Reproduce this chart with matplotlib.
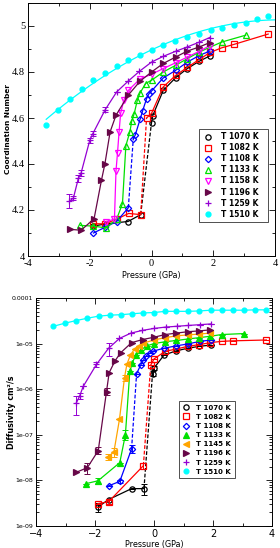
import numpy as np
import matplotlib
matplotlib.use("Agg")
import matplotlib.pyplot as plt
from matplotlib.ticker import MultipleLocator, LogLocator, NullFormatter, FixedLocator, FixedFormatter

# ---------------- data: coordination number (top) ----------------
labels_top = ['T 1070 K', 'T 1082 K', 'T 1108 K', 'T 1133 K', 'T 1158 K', 'T 1196 K', 'T 1259 K', 'T 1510 K']

p_1070_t = [-1.88, -1.47, -0.76, -0.35, 0.0, 0.04, 0.38, 0.78, 1.16, 1.55, 1.89]
cn_1070 = [4.13, 4.14, 4.15, 4.18, 4.58, 4.61, 4.72, 4.775, 4.815, 4.847, 4.87]

p_1082_t = [-1.9, -1.5, -1.13, -0.74, -0.35, -0.16, 0.0, 0.38, 0.78, 1.16, 1.55, 1.9, 2.27, 2.67, 3.78]
cn_1082 = [4.14, 4.14, 4.16, 4.185, 4.18, 4.60, 4.62, 4.735, 4.785, 4.82, 4.855, 4.885, 4.905, 4.92, 4.965]

p_1108_t = [-1.88, -1.5, -1.13, -0.75, -0.59, -0.53, -0.37, -0.29, -0.16, -0.08, 0.0, 0.38, 0.78, 1.16, 1.55, 1.89]
cn_1108 = [4.10, 4.125, 4.15, 4.21, 4.51, 4.525, 4.594, 4.63, 4.684, 4.706, 4.717, 4.774, 4.807, 4.843, 4.872, 4.891]

p_1133_t = [-2.3, -1.88, -1.47, -1.13, -0.94, -0.83, -0.7, -0.64, -0.56, -0.46, -0.37, -0.19, 0.0, 0.38, 0.78, 1.16, 1.55, 2.27, 3.05]
cn_1133 = [4.133, 4.13, 4.122, 4.16, 4.228, 4.48, 4.54, 4.587, 4.619, 4.677, 4.709, 4.75, 4.764, 4.80, 4.829, 4.858, 4.887, 4.93, 4.96]

p_1158_t = [-1.47, -1.2, -1.15, -1.1, -1.05, -1.0, -0.89, -0.75, -0.37, 0.0, 0.38, 0.78, 1.16, 1.55, 1.89]
cn_1158 = [4.15, 4.16, 4.37, 4.45, 4.54, 4.62, 4.68, 4.72, 4.77, 4.79, 4.815, 4.84, 4.865, 4.89, 4.915]

p_1196_t = [-2.64, -2.28, -1.86, -1.62, -1.51, -1.34, -1.15, -0.75, -0.37, 0.0, 0.38, 0.78, 1.16, 1.55, 1.89]
cn_1196 = [4.116, 4.112, 4.162, 4.33, 4.40, 4.54, 4.612, 4.70, 4.76, 4.80, 4.837, 4.865, 4.891, 4.909, 4.928]

p_1259_t = [-2.66, -2.53, -2.37, -2.28, -2.0, -1.9, -1.5, -1.13, -0.75, -0.39, 0.0, 0.38, 0.78, 1.16, 1.55, 1.89]
cn_1259 = [4.238, 4.252, 4.337, 4.361, 4.503, 4.532, 4.636, 4.713, 4.761, 4.803, 4.843, 4.868, 4.89, 4.909, 4.93, 4.95]
ecn_1259 = [0.03, 0.01, 0.015, 0.015, 0.01, 0.01, 0.01, 0, 0, 0, 0, 0, 0, 0, 0, 0]

p_1510 = [-3.41, -3.02, -2.64, -2.26, -1.88, -1.50, -1.13, -0.75, -0.37, 0.0, 0.38, 0.76, 1.14, 1.54, 1.92, 2.29, 2.67, 3.05, 3.42, 3.78]
cn_1510 = [4.571, 4.633, 4.683, 4.725, 4.764, 4.797, 4.826, 4.851, 4.873, 4.894, 4.916, 4.933, 4.951, 4.967, 4.981, 4.991, 5.004, 5.015, 5.029, 5.043]

# ---------------- data: diffusivity (bottom) ----------------
labels_bot = ['T 1070 K', 'T 1082 K', 'T 1108 K', 'T 1133 K', 'T 1145 K', 'T 1196 K', 'T 1259 K', 'T 1510 K']

p_1070_b = [-1.90, -1.54, -0.76, -0.34, -0.05, 0.0, 0.34, 0.74, 1.14, 1.53, 1.93]
d_1070 = [2.6e-9, 3.8e-9, 6.6e-9, 6.6e-9, 2.2e-6, 2.9e-6, 5.6e-6, 6.9e-6, 7.9e-6, 8.7e-6, 9.3e-6]
e_1070 = [0.6e-9, 0, 0, 1.8e-9, 0.3e-6, 0.3e-6, 0, 0, 0, 0, 0]

p_1082_b = [-1.90, -1.54, -0.36, -0.11, 0.0, 0.38, 0.76, 1.14, 1.53, 1.91, 2.29, 2.67, 3.81]
d_1082 = [3.1e-9, 3.4e-9, 2.1e-8, 3.4e-6, 4.6e-6, 6.8e-6, 7.6e-6, 8.7e-6, 9.5e-6, 1.05e-5, 1.12e-5, 1.15e-5, 1.2e-5]
e_1082 = [0, 0.3e-9, 0.3e-8, 0, 0, 0, 0, 0, 0, 0, 0, 0, 0]

p_1108_b = [-1.54, -1.16, -0.76, -0.59, -0.45, -0.36, -0.26, -0.14, -0.05, 0.34, 0.74, 1.14, 1.56, 1.93]
d_1108 = [7.6e-9, 9.5e-9, 4.9e-8, 2.2e-6, 3.4e-6, 4.3e-6, 5.4e-6, 6.2e-6, 6.8e-6, 7.9e-6, 8.9e-6, 9.8e-6, 1.12e-5, 1.2e-5]
e_1108 = [0, 0.9e-9, 1.0e-8, 0, 0, 0, 0, 0, 0, 0, 0, 0, 0, 0]

p_1133_b = [-2.30, -1.90, -1.16, -0.97, -0.82, -0.74, -0.62, -0.45, -0.25, 0.0, 0.38, 0.76, 1.14, 1.53, 1.91, 2.29, 3.05]
d_1133 = [8.5e-9, 9.8e-9, 2.45e-8, 1.0e-7, 2.45e-6, 3.7e-6, 5.6e-6, 7.2e-6, 8.9e-6, 1.0e-5, 1.1e-5, 1.17e-5, 1.26e-5, 1.35e-5, 1.45e-5, 1.58e-5, 1.66e-5]
e_1133 = [0, 1.5e-9, 0, 2.5e-8, 0, 0, 0, 0, 0, 0, 0, 0, 0, 0, 0, 0, 0]

p_1145_b = [-1.56, -1.36, -1.17, -1.0, -0.92, -0.80, -0.66, -0.50, -0.37, 0.0, 0.38, 0.76, 1.14, 1.53, 1.91]
d_1145 = [3.3e-8, 4.2e-8, 2.2e-7, 1.8e-6, 3.5e-6, 5.6e-6, 7.6e-6, 8.9e-6, 1.02e-5, 1.2e-5, 1.35e-5, 1.48e-5, 1.55e-5, 1.62e-5, 1.7e-5]
e_1145 = [0.5e-8, 1.0e-8, 0, 0.3e-6, 0, 0, 0, 0, 0, 0, 0, 0, 0, 0, 0]

p_1196_b = [-2.64, -2.26, -1.89, -1.61, -1.52, -1.32, -1.13, -0.76, -0.38, 0.0, 0.38, 0.76, 1.14, 1.53, 1.91]
d_1196 = [1.5e-8, 1.9e-8, 4.5e-8, 8.9e-7, 2.3e-6, 4.2e-6, 6.3e-6, 1.05e-5, 1.23e-5, 1.38e-5, 1.58e-5, 1.7e-5, 1.82e-5, 1.9e-5, 2.0e-5]
e_1196 = [0, 0.5e-8, 0.8e-8, 1.5e-7, 0, 0, 0, 0, 0, 0, 0, 0, 0, 0, 0]

p_1259_b = [-2.64, -2.52, -2.40, -1.95, -1.54, -1.17, -0.78, -0.39, 0.0, 0.39, 0.78, 1.16, 1.55, 1.93]
d_1259 = [4.9e-7, 7.1e-7, 1.15e-6, 3.5e-6, 7.9e-6, 1.3e-5, 1.7e-5, 1.95e-5, 2.15e-5, 2.3e-5, 2.4e-5, 2.5e-5, 2.6e-5, 2.7e-5]
e_1259 = [2.2e-7, 1.0e-7, 0, 0.5e-6, 2.5e-6, 0, 0, 0, 0, 0, 0, 0, 0, 0]

d_1510 = [2.4e-5, 2.8e-5, 3.2e-5, 3.6e-5, 4.0e-5, 4.2e-5, 4.3e-5, 4.5e-5, 4.7e-5, 4.8e-5, 5.1e-5, 5.1e-5, 5.1e-5, 5.2e-5, 5.4e-5, 5.4e-5, 5.4e-5, 5.4e-5, 5.5e-5, 5.5e-5]

# index after which the curve jumps (drawn dashed)
jump_1070_t, jump_1082_t, jump_1108_t = 3, 4, 3
jump_1070_b, jump_1082_b, jump_1108_b = 3, 2, 2

colors = {'1070': 'black', '1082': '#ff0000', '1108': '#0000ff', '1133': '#00e000',
          '1145': '#ffa500', '1158': '#ff00ff', '1196': '#670748', '1259': '#9400d3', '1510': '#00ffff'}

W, H = 280, 548
fig = plt.figure(figsize=(W / 100, H / 100), dpi=100)
ax1 = fig.add_axes([28 / W, 1 - 256 / H, 247 / W, 253 / H])
ax2 = fig.add_axes([36 / W, 1 - 526 / H, 236 / W, 228 / H])


def series(ax, p, y, col, mk, filled=False, jump=None, yerr=None, label=None, ms=3.8):
    p = np.array(p)
    y = np.array(y)
    mfc = col if filled else 'none'
    lw = 0.9
    if jump is None:
        ax.plot(p, y, '-', color=col, lw=lw)
    else:
        ax.plot(p[:jump + 1], y[:jump + 1], '-', color=col, lw=lw)
        ax.plot(p[jump:jump + 2], y[jump:jump + 2], '--', color=col, lw=lw, dashes=(3, 1.5))
        ax.plot(p[jump + 1:], y[jump + 1:], '-', color=col, lw=lw)
    if yerr is not None:
        ax.errorbar(p, y, yerr=yerr, fmt='none', ecolor=col, elinewidth=0.7, capsize=2, capthick=0.7)
    ax.plot(p, y, linestyle='none', marker=mk, ms=ms, mfc=mfc, mec=col, mew=0.9, label=label)


# ---------- top panel ----------
series(ax1, p_1070_t, cn_1070, colors['1070'], 'o', jump=jump_1070_t, label=labels_top[0])
series(ax1, p_1082_t, cn_1082, colors['1082'], 's', jump=jump_1082_t, label=labels_top[1])
series(ax1, p_1108_t, cn_1108, colors['1108'], 'D', jump=jump_1108_t, label=labels_top[2], ms=3.2)
series(ax1, p_1133_t, cn_1133, colors['1133'], '^', label=labels_top[3])
series(ax1, p_1158_t, cn_1158, colors['1158'], 'v', label=labels_top[4])
series(ax1, p_1196_t, cn_1196, colors['1196'], '>', filled=True, label=labels_top[5])
series(ax1, p_1259_t, cn_1259, colors['1259'], '+', yerr=ecn_1259, label=labels_top[6], ms=5)
# 1510 K: smooth fit line through the points
fit = np.polyfit(p_1510, cn_1510, 2)
xf = np.linspace(p_1510[0], 4.05, 100)
ax1.plot(xf, np.polyval(fit, xf), color=colors['1510'], lw=0.9)
ax1.plot(p_1510, cn_1510, linestyle='none', marker='o', ms=3.5, color=colors['1510'], label=labels_top[7])

ax1.set_xlim(-4, 4)
ax1.set_ylim(4, 5.1)
ax1.xaxis.set_minor_locator(MultipleLocator(1))
ax1.yaxis.set_minor_locator(MultipleLocator(0.1))
ax1.set_yticks([4, 4.2, 4.4, 4.6, 4.8, 5])
ax1.set_yticklabels(['4', '4.2', '4.4', '4.6', '4.8', '5'])
ax1.set_xticks([-4, -2, 0, 2, 4])
ax1.set_xticklabels(['-4', '-2', '0', '2', '4'])
for lab in ax1.get_xticklabels() + ax1.get_yticklabels():
    lab.set_fontfamily('Liberation Serif')
    lab.set_fontsize(7.5)
ax1.set_xlabel('Pressure (GPa)', fontsize=5.8, labelpad=2)
ax1.set_ylabel('Coordination Number', fontsize=5.3, fontweight='bold')
ax1.yaxis.set_label_coords(-0.068, 0.5)
leg1 = ax1.legend(loc='lower left', bbox_to_anchor=(0.692, 0.134, 0.279, 0.35), mode='expand',
                  prop={'weight': 'bold', 'size': 5.5}, frameon=True, fancybox=False,
                  edgecolor='black', handlelength=1.4, handletextpad=1.0, labelspacing=0.27,
                  borderpad=0.45, numpoints=1, borderaxespad=0)
leg1.get_frame().set_linewidth(0.6)

# ---------- bottom panel ----------
series(ax2, p_1070_b, d_1070, colors['1070'], 'o', jump=jump_1070_b, yerr=e_1070, label=labels_bot[0])
series(ax2, p_1082_b, d_1082, colors['1082'], 's', jump=jump_1082_b, yerr=e_1082, label=labels_bot[1])
series(ax2, p_1108_b, d_1108, colors['1108'], 'D', jump=jump_1108_b, yerr=e_1108, label=labels_bot[2], ms=3.2)
series(ax2, p_1133_b, d_1133, colors['1133'], '^', filled=True, yerr=e_1133, label=labels_bot[3])
series(ax2, p_1145_b, d_1145, colors['1145'], '<', filled=True, yerr=e_1145, label=labels_bot[4])
series(ax2, p_1196_b, d_1196, colors['1196'], '>', filled=True, yerr=e_1196, label=labels_bot[5])
series(ax2, p_1259_b, d_1259, colors['1259'], '+', yerr=e_1259, label=labels_bot[6], ms=5)
series(ax2, p_1510, d_1510, colors['1510'], 'o', filled=True, label=labels_bot[7], ms=3.5)

ax2.set_yscale('log')
ax2.set_xlim(-4, 4)
ax2.set_ylim(1e-9, 1e-4)
ax2.xaxis.set_major_locator(MultipleLocator(2))
ax2.xaxis.set_minor_locator(MultipleLocator(1))
ax2.yaxis.set_major_locator(FixedLocator([1e-9, 1e-8, 1e-7, 1e-6, 1e-5, 1e-4]))
ax2.yaxis.set_major_formatter(FixedFormatter(['1e-09', '1e-08', '1e-07', '1e-06', '1e-05', '0.0001']))
ax2.yaxis.set_minor_locator(LogLocator(base=10, subs=np.arange(2, 10)))
ax2.yaxis.set_minor_formatter(NullFormatter())
ax2.tick_params(axis='y', which='major', labelsize=4.5)
ax2.tick_params(axis='x', which='major', labelsize=7)
ax2.set_xlabel('Pressure (GPa)', fontsize=5.8, labelpad=1)
ax2.set_ylabel('Diffusivity cm²/s', fontsize=5.8, fontweight='bold')
ax2.yaxis.set_label_coords(-0.085, 0.5)
leg2 = ax2.legend(loc='lower left', bbox_to_anchor=(0.606, 0.21), prop={'weight': 'bold', 'size': 5},
                  frameon=True, fancybox=False, edgecolor='black', handlelength=1.0,
                  handletextpad=1.0, labelspacing=0.45, borderpad=0.5, numpoints=1, borderaxespad=0)
leg2.get_frame().set_linewidth(0.6)

for ax in (ax1, ax2):
    ax.tick_params(which='both', direction='in', top=True, right=True, width=0.6, pad=2)
    ax.tick_params(which='major', length=4)
    ax.tick_params(which='minor', length=2)
    for s in ax.spines.values():
        s.set_linewidth(0.7)

fig.savefig('out.png', dpi=100)
